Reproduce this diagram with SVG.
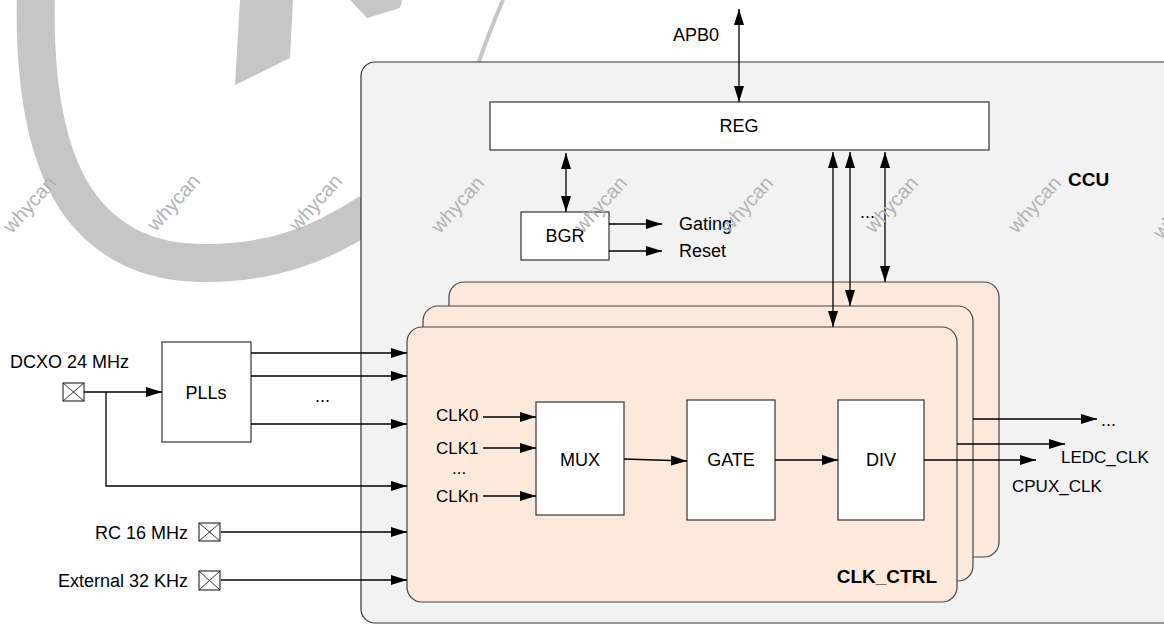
<svg xmlns="http://www.w3.org/2000/svg" width="1164" height="625" viewBox="0 0 1164 625">
<defs>
<style>
.t{font-family:"Liberation Sans",Arial,sans-serif;font-size:18px;fill:#000}
.s{font-size:17px}
.b{font-family:"Liberation Sans",Arial,sans-serif;font-size:19px;font-weight:bold;fill:#000}
.box{fill:#fff;stroke:#333;stroke-width:1.2}
.clk{fill:#fce9db;stroke:#444;stroke-width:1.2}
.ln{fill:none;stroke:#000;stroke-width:1.3}
.ar{marker-end:url(#ah)}
.dar{marker-start:url(#ah);marker-end:url(#ah)}
.wm{font-family:"Liberation Sans",Arial,sans-serif;font-size:20px;fill:#b2b2b2;text-anchor:middle}
.wg{fill:#c6c6c6}
</style>
<marker id="ah" viewBox="0 0 16 10" refX="16" refY="5" markerWidth="16" markerHeight="10" markerUnits="userSpaceOnUse" orient="auto-start-reverse">
<path d="M0,0 L16,5 L0,10 Z" fill="#000"/>
</marker>
</defs>
<rect width="1164" height="625" fill="#fff"/>
<g id="watermark-shapes">
<path d="M36,-10 C34,60 40,150 80,205 C110,245 150,262 200,263 C270,264 320,245 370,212" fill="none" stroke="#c6c6c6" stroke-width="38"/>
<polygon class="wg" points="240,0 293,0 290,58 235,85"/>
<polygon class="wg" points="350,0 402,0 400,8 367,18"/>
<path d="M503,0 Q490,30 478,64" fill="none" stroke="#c6c6c6" stroke-width="4"/>
</g>
<g id="ccu">
<rect x="361" y="62" width="830" height="561" rx="14" fill="#f2f2f2" stroke="#333" stroke-width="1.2"/>
<text class="b" x="1068" y="186">CCU</text>
</g>
<g id="reg">
<rect class="box" x="490" y="102" width="499" height="48"/>
<text class="t" x="739" y="132" text-anchor="middle">REG</text>
</g>
<g id="bgr">
<rect class="box" x="521" y="212" width="88" height="48"/>
<text class="t" x="565" y="242" text-anchor="middle">BGR</text>
</g>
<g id="clk_ctrl_back"><rect class="clk" x="449" y="282" width="550" height="275" rx="15"/></g>
<g id="clk_ctrl_mid"><rect class="clk" x="423" y="306" width="550" height="275" rx="15"/></g>
<g id="clk_ctrl">
<rect class="clk" x="407" y="327" width="550" height="275" rx="15"/>
<text class="b" x="937" y="583" text-anchor="end">CLK_CTRL</text>
</g>
<g id="mux">
<rect class="box" x="536" y="402" width="88" height="113"/>
<text class="t" x="580" y="466" text-anchor="middle">MUX</text>
</g>
<g id="gate">
<rect class="box" x="687" y="400" width="88" height="120"/>
<text class="t" x="731" y="466" text-anchor="middle">GATE</text>
</g>
<g id="div">
<rect class="box" x="838" y="400" width="86" height="120"/>
<text class="t" x="881" y="466" text-anchor="middle">DIV</text>
</g>
<g id="plls">
<rect class="box" x="162" y="342" width="89" height="100"/>
<text class="t" x="206" y="399" text-anchor="middle">PLLs</text>
</g>
<g id="dcxo">
<rect class="box" x="63" y="383" width="21" height="18"/>
<path d="M63,383 L84,401 M84,383 L63,401" stroke="#333" stroke-width="1"/>
<text class="t" x="10" y="368">DCXO 24 MHz</text>
</g>
<g id="rc16">
<rect class="box" x="199" y="523" width="21" height="18"/>
<path d="M199,523 L220,541 M220,523 L199,541" stroke="#333" stroke-width="1"/>
<text class="t" x="188" y="539" text-anchor="end">RC 16 MHz</text>
</g>
<g id="ext32">
<rect class="box" x="199" y="571" width="21" height="19"/>
<path d="M199,571 L220,590 M220,571 L199,590" stroke="#333" stroke-width="1"/>
<text class="t" x="188" y="587" text-anchor="end">External 32 KHz</text>
</g>
<g id="connectors">
<line class="ln dar" x1="739" y1="9" x2="739" y2="102"/>
<text class="t" x="673" y="41">APB0</text>
<line class="ln dar" x1="566" y1="153" x2="566" y2="212"/>
<line class="ln ar" x1="609" y1="224" x2="662" y2="224"/>
<line class="ln ar" x1="609" y1="251" x2="662" y2="251"/>
<text class="t" x="679" y="230">Gating</text>
<text class="t" x="679" y="257">Reset</text>
<line class="ln dar" x1="833" y1="152" x2="833" y2="327"/>
<line class="ln dar" x1="850" y1="152" x2="850" y2="306"/>
<line class="ln dar" x1="885" y1="152" x2="885" y2="282"/>
<text class="t" x="860" y="218">...</text>
<line class="ln ar" x1="84" y1="392" x2="162" y2="392"/>
<polyline class="ln ar" points="106,392 106,486 407,486"/>
<line class="ln ar" x1="251" y1="353" x2="407" y2="353"/>
<line class="ln ar" x1="251" y1="376" x2="407" y2="376"/>
<line class="ln ar" x1="251" y1="424" x2="407" y2="424"/>
<text class="t" x="315" y="402">...</text>
<line class="ln ar" x1="221" y1="532" x2="407" y2="532"/>
<line class="ln ar" x1="221" y1="580" x2="407" y2="580"/>
<text class="t s" x="436" y="421">CLK0</text>
<line class="ln ar" x1="483" y1="417" x2="536" y2="417"/>
<text class="t s" x="436" y="454">CLK1</text>
<line class="ln ar" x1="483" y1="448" x2="536" y2="448"/>
<text class="t s" x="452" y="474">...</text>
<text class="t s" x="436" y="502">CLKn</text>
<line class="ln ar" x1="483" y1="496" x2="536" y2="496"/>
<line class="ln ar" x1="624" y1="459" x2="687" y2="461"/>
<line class="ln ar" x1="775" y1="460" x2="838" y2="460"/>
<line class="ln ar" x1="924" y1="460" x2="1036" y2="460"/>
<line class="ln ar" x1="957" y1="444" x2="1065" y2="444"/>
<line class="ln ar" x1="973" y1="419" x2="1097" y2="419"/>
<text class="t" x="1101" y="426">...</text>
<text class="t s" x="1061" y="463">LEDC_CLK</text>
<text class="t s" x="1012" y="492">CPUX_CLK</text>
</g>
<g id="watermark-text">
<text class="wm" x="30" y="211" transform="rotate(-48 30 205)">whycan</text>
<text class="wm" x="174" y="209" transform="rotate(-48 174 203)">whycan</text>
<text class="wm" x="316" y="209" transform="rotate(-48 316 203)">whycan</text>
<text class="wm" x="458" y="211" transform="rotate(-48 458 205)">whycan</text>
<text class="wm" x="601" y="211" transform="rotate(-48 601 205)">whycan</text>
<text class="wm" x="747" y="211" transform="rotate(-48 747 205)">whycan</text>
<text class="wm" x="892" y="211" transform="rotate(-48 892 205)">whycan</text>
<text class="wm" x="1035" y="211" transform="rotate(-48 1035 205)">whycan</text>
<text class="wm" x="1180" y="217" transform="rotate(-48 1180 211)">whycan</text>
</g>
</svg>
